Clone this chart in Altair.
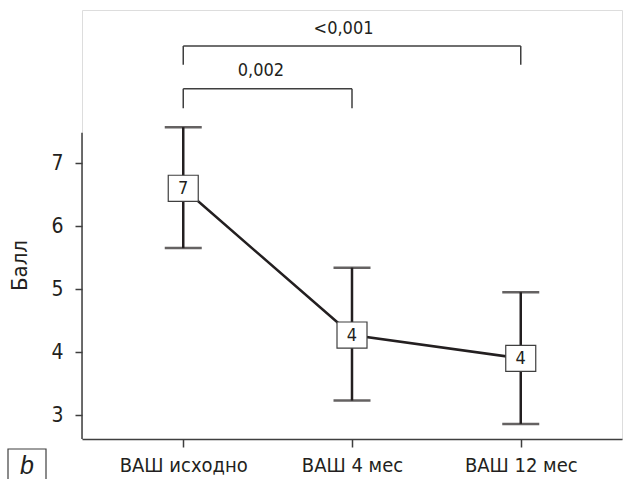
import altair as alt
import pandas as pd

categories = ["ВАШ исходно", "ВАШ 4 мес", "ВАШ 12 мес"]
positions = [0, 1, 2]
means = [6.6, 4.27, 3.9]
lower = [5.65, 3.23, 2.86]
upper = [7.57, 5.34, 4.95]
box_labels = ["7", "4", "4"]

p_labels = ["0,002", "<0,001"]
bracket_from = [0, 0]
bracket_to = [1, 2]
bracket_level = [8.18, 8.86]
bracket_foot = [7.87, 8.56]
p_label_x = [0.46, 0.95]
p_label_y = [8.46, 9.13]

y_ticks = [3, 4, 5, 6, 7]
y_axis_span = [2.62, 7.48]

FONT = "DejaVu Sans Condensed, sans-serif"
INK = "#231f20"
GREY = "#3f3f3f"

df = pd.DataFrame({"pos": positions, "cat": categories, "mean": means,
                   "lo": lower, "hi": upper, "lab": box_labels})

segs = []
for f, t, lv, ft in zip(bracket_from, bracket_to, bracket_level, bracket_foot):
    segs.append({"x": f, "x2": t, "y": lv, "y2": lv})
    segs.append({"x": f, "x2": f, "y": ft, "y2": lv})
    segs.append({"x": t, "x2": t, "y": ft, "y2": lv})
seg_df = pd.DataFrame(segs)
plab_df = pd.DataFrame({"x": p_label_x, "y": p_label_y, "t": p_labels})
yaxis_df = pd.DataFrame({"y": [y_axis_span[0]], "y2": [y_axis_span[1]]})

label_expr = "{" + ",".join(f"'{p}': '{c}'" for p, c in zip(positions, categories)) + "}[datum.value]"

xs = alt.Scale(domain=[-0.6, 2.6], nice=False, zero=False)
ys = alt.Scale(domain=[2.62, 9.43], nice=False, zero=False)

X = alt.X("pos:Q", scale=xs, axis=alt.Axis(values=positions, labelExpr=label_expr, title=None,
                                             grid=False, tickSize=8, labelPadding=8,
                                             domainColor=GREY, tickColor=GREY, domainWidth=1.5,
                                             tickWidth=1.5, labelFontSize=20, labelColor=INK,
                                             labelFont=FONT))
Y = alt.Y("mean:Q", scale=ys, axis=alt.Axis(values=y_ticks, format="d", title="Балл", grid=False,
                                              domain=False, tickSize=7, tickColor=GREY, tickWidth=1.5,
                                              labelPadding=12, labelFontSize=21, labelColor=INK,
                                              labelFont=FONT, titleFont=FONT, titleFontSize=22,
                                              titleFontWeight="normal", titleColor=INK,
                                              titleAngle=270, titleX=-63, titleY=255,
                                              titleAlign="center", titleBaseline="middle"))

base = alt.Chart(df)

yaxis_line = alt.Chart(yaxis_df).mark_rule(color=GREY, strokeWidth=1.5).encode(
    x=alt.value(0), y=alt.Y("y:Q", scale=ys), y2="y2:Q")

err = base.mark_rule(color=INK, strokeWidth=2.5).encode(
    x=alt.X("pos:Q", scale=xs), y=alt.Y("lo:Q", scale=ys), y2="hi:Q")
cap_lo = base.mark_tick(color=INK, orient="horizontal", size=37, thickness=2.5).encode(
    x=alt.X("pos:Q", scale=xs), y=alt.Y("lo:Q", scale=ys))
cap_hi = base.mark_tick(color=INK, orient="horizontal", size=37, thickness=2.5).encode(
    x=alt.X("pos:Q", scale=xs), y=alt.Y("hi:Q", scale=ys))

line = base.mark_line(color=INK, strokeWidth=2.5).encode(x=X, y=Y)
boxes = base.mark_point(shape="M-1,-0.87H1V0.87H-1Z", size=900, filled=True, fill="white",
                        stroke=GREY, strokeWidth=1.2, opacity=1).encode(
    x=alt.X("pos:Q", scale=xs), y=alt.Y("mean:Q", scale=ys))
box_text = base.mark_text(font=FONT, fontSize=18, color=INK, baseline="middle", dy=1).encode(
    x=alt.X("pos:Q", scale=xs), y=alt.Y("mean:Q", scale=ys), text="lab:N")

brackets = alt.Chart(seg_df).mark_rule(color=GREY, strokeWidth=1.5).encode(
    x=alt.X("x:Q", scale=xs), x2="x2:Q", y=alt.Y("y:Q", scale=ys), y2="y2:Q")
ptext = alt.Chart(plab_df).mark_text(font=FONT, fontSize=18, color=INK, baseline="middle").encode(
    x=alt.X("x:Q", scale=xs), y=alt.Y("y:Q", scale=ys), text="t:N")

panel_box = alt.Chart(yaxis_df).mark_rect(fill="white", stroke=GREY, strokeWidth=1.2).encode(
    x=alt.value(-74), x2=alt.value(-36), y=alt.value(439), y2=alt.value(485))
panel_text = alt.Chart(yaxis_df).mark_text(font="Liberation Sans", fontSize=25, fontStyle="italic",
                                           color=INK, baseline="middle").encode(
    x=alt.value(-55), y=alt.value(456), text=alt.value("b"))

chart = alt.layer(line, err, cap_lo, cap_hi, boxes, box_text, brackets, ptext, yaxis_line,
                  panel_box, panel_text).properties(
    width=540, height=429,
    autosize=alt.AutoSizeParams(type="none"),
    padding={"left": 82, "top": 10, "right": 3, "bottom": 40},
).configure_view(stroke=None).configure(background="white")

chart.save("out.html", embed_options={"renderer": "svg", "actions": False})
